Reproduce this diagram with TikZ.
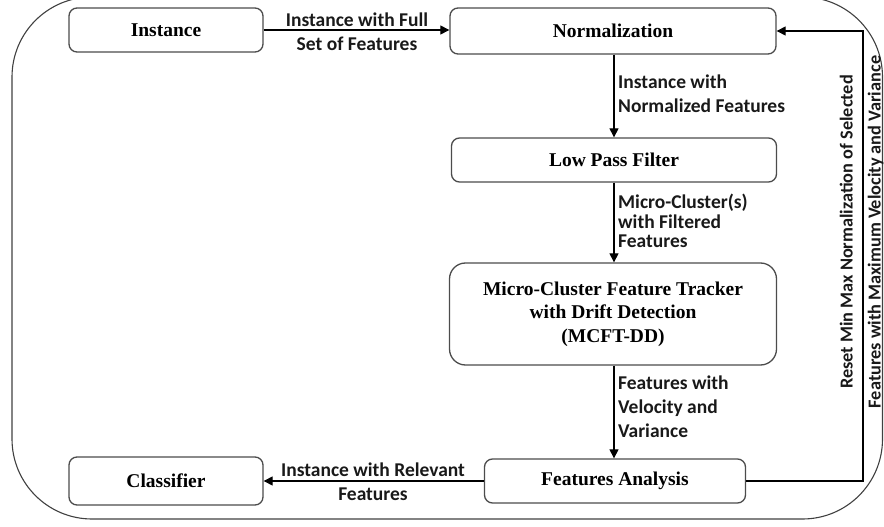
\documentclass[tikz,border=0pt]{standalone}
\usepackage{fontspec}
\setmainfont{Liberation Serif}
\newfontfamily\lblfont{Carlito}
\usetikzlibrary{arrows.meta,calc}

\tikzset{
  box/.style={draw=black!70, line width=1.3pt, fill=white, rounded corners=8pt,
    align=center, inner sep=0pt, font=\fontsize{19.5}{23.5}\selectfont\bfseries},
  arr/.style={draw=black, line width=1.1pt, -{Triangle[length=9pt,width=9pt]}},
  lbl/.style={font=\lblfont\fontsize{19.5}{24}\selectfont\bfseries, inner sep=0pt, text=black!90},
  frame/.style={draw=black!75, line width=1.1pt, rounded corners=80pt}
}

\begin{document}
\begin{tikzpicture}[x=1pt,y=-1pt]
  \useasboundingbox (0,0) rectangle (884,527);

  % outer frame
  \draw[frame] (12,-3) rectangle (882.5,519);

  % processing blocks
  \node[box, minimum width=194pt, minimum height=44pt] (inst) at (166,30) {Instance};
  \node[box, minimum width=326pt, minimum height=46pt] (norm) at (613,31) {Normalization};
  \node[box, minimum width=325pt, minimum height=44pt] (lpf)  at (614,160) {Low Pass Filter};
  \node[box, minimum width=327pt, minimum height=102pt, rounded corners=16pt] (mcft) at (613,314)
    {Micro-Cluster Feature Tracker\\with Drift Detection\\(MCFT-DD)};
  \node[box, minimum width=261pt, minimum height=44pt] (fa)   at (615,481) {Features Analysis};
  \node[box, minimum width=194pt, minimum height=48pt] (cls)  at (166,481) {Classifier};

  % main flow
  \draw[arr] (inst.east) -- (inst.east -| norm.west);
  \node[lbl, align=center] (l1) at (357,32) {Instance with Full\\Set of Features};

  \draw[arr] (norm.south -| 614,0) -- (lpf.north -| 614,0);
  \node[lbl, align=left, anchor=west] (l2) at (618,94) {Instance with\\Normalized Features};

  \draw[arr] (lpf.south -| 614,0) -- (mcft.north -| 614,0);
  \node[lbl, align=left, anchor=west, font=\lblfont\fontsize{19.5}{19.5}\selectfont\bfseries] (l3) at (618,221)
    {Micro-Cluster(s)\\with Filtered\\Features};

  \draw[arr] (mcft.south -| 614,0) -- (fa.north -| 614,0);
  \node[lbl, align=left, anchor=west] (l4) at (618,407) {Features with\\Velocity and\\Variance};

  \draw[arr] (fa.west) -- (cls.east);
  \node[lbl, align=center] (l5) at (373,482) {Instance with Relevant\\Features};

  % feedback loop to the normalization block
  \coordinate (fbx) at (863,0);
  \draw[arr] (fa.east) -| (fbx |- norm.east) -- (norm.east);
  \node[lbl, align=center, rotate=90, font=\lblfont\fontsize{18.3}{28}\selectfont\bfseries] (l6) at (861.5,232)
    {Reset Min Max Normalization of Selected\\Features with Maximum Velocity and Variance};
\end{tikzpicture}
\end{document}
